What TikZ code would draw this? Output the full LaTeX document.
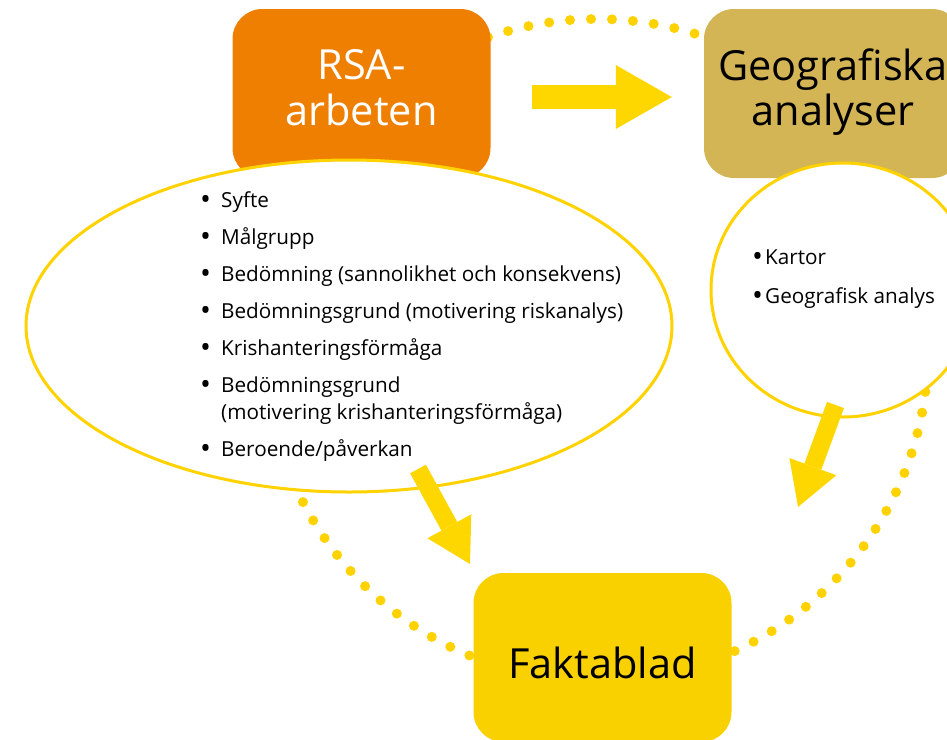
\documentclass[tikz,border=0pt]{standalone}
\usepackage{fontspec}
\usepackage{graphicx}
\setmainfont{Open Sans}
\usetikzlibrary{calc, shapes.geometric, positioning, arrows.meta}
\definecolor{rsaorange}{HTML}{EF7F00}
\definecolor{geotan}{HTML}{D4B556}
\definecolor{faktayellow}{HTML}{F9D100}
\definecolor{ringyellow}{HTML}{FFD200}
\definecolor{arrowyellow}{HTML}{FFD700}
\newcommand{\itemdot}{\raisebox{-2.6pt}{\scalebox{1.4}{\textbullet}}}
\tikzset{
  box/.style={rectangle, rounded corners=30pt, minimum width=258pt, minimum height=169pt,
    inner sep=0pt, font=\fontsize{41.5}{45}\selectfont},
  ring/.style={draw=ringyellow, line width=10pt, line cap=round, dash pattern=on 0pt off 21pt},
  bubble/.style={ellipse, draw=ringyellow, line width=3pt, fill=white, inner sep=0pt},
  listtext/.style={inner sep=0pt, anchor=base west, font=\fontsize{20.7}{27}\selectfont},
  bigarrow/.style={draw=arrowyellow, line width=24pt,
    -{Triangle[length=56pt, width=64pt, line width=0pt]}},
  smallarrow/.style={draw=arrowyellow, line width=18pt,
    -{Triangle[length=43pt, width=50pt, line width=0pt]}}
}
\begin{document}
\begin{tikzpicture}[x=1pt, y=-1pt, inner sep=0pt]
\useasboundingbox (0,0) rectangle (947,739);
\clip (0,0) rectangle (947,739);
\coordinate (ringc) at (597,350);
\draw [ring] (ringc) circle (331);
\node [box, fill=rsaorange, text=white] (rsa) at (361.5,93.5)
  {\begin{tabular}{@{}c@{}}RSA-\\arbeten\end{tabular}};
\node [box, fill=geotan] (geo) at (833,93.5)
  {\begin{tabular}{@{}c@{}}Geografiska\\analyser\end{tabular}};
\node [box, fill=faktayellow, text height=41pt, text depth=0pt] (fakta) at (602.5,657.5) {Faktablad};
\node [bubble, minimum width=646pt, minimum height=332pt] (rsabubble) at (349,326) {};
\node [bubble, minimum width=264pt, minimum height=254pt] (geobubble) at (843,290) {};
\node [listtext] (rsalist) at (200,207) {\begin{tabular}[t]{@{}p{21pt}@{}l@{}}
\itemdot & Syfte\\[10pt]
\itemdot & Målgrupp\\[10pt]
\itemdot & Bedömning (sannolikhet och konsekvens)\\[10pt]
\itemdot & Bedömningsgrund (motivering riskanalys)\\[10pt]
\itemdot & Krishanteringsförmåga\\[10pt]
\itemdot & Bedömningsgrund\\
 & (motivering krishanteringsförmåga)\\[10pt]
\itemdot & Beroende/påverkan
\end{tabular}};
\node [listtext] (geolist) at (752,264) {\begin{tabular}[t]{@{}p{13pt}@{}l@{}}
\itemdot & Kartor\\[12pt]
\itemdot & Geografisk analys
\end{tabular}};
\draw [bigarrow, shorten <=41pt, shorten >=32pt] ([yshift=-3.5pt]rsa.east) -- ([yshift=-3.5pt]geo.west);
\coordinate (leftfrom) at (418,469);
\coordinate (leftto) at (470,564);
\draw [smallarrow] (leftfrom) -- (leftto);
\coordinate (rightfrom) at (835.5,405);
\coordinate (rightto) at (798,507);
\draw [smallarrow] (rightfrom) -- (rightto);
\end{tikzpicture}
\end{document}
